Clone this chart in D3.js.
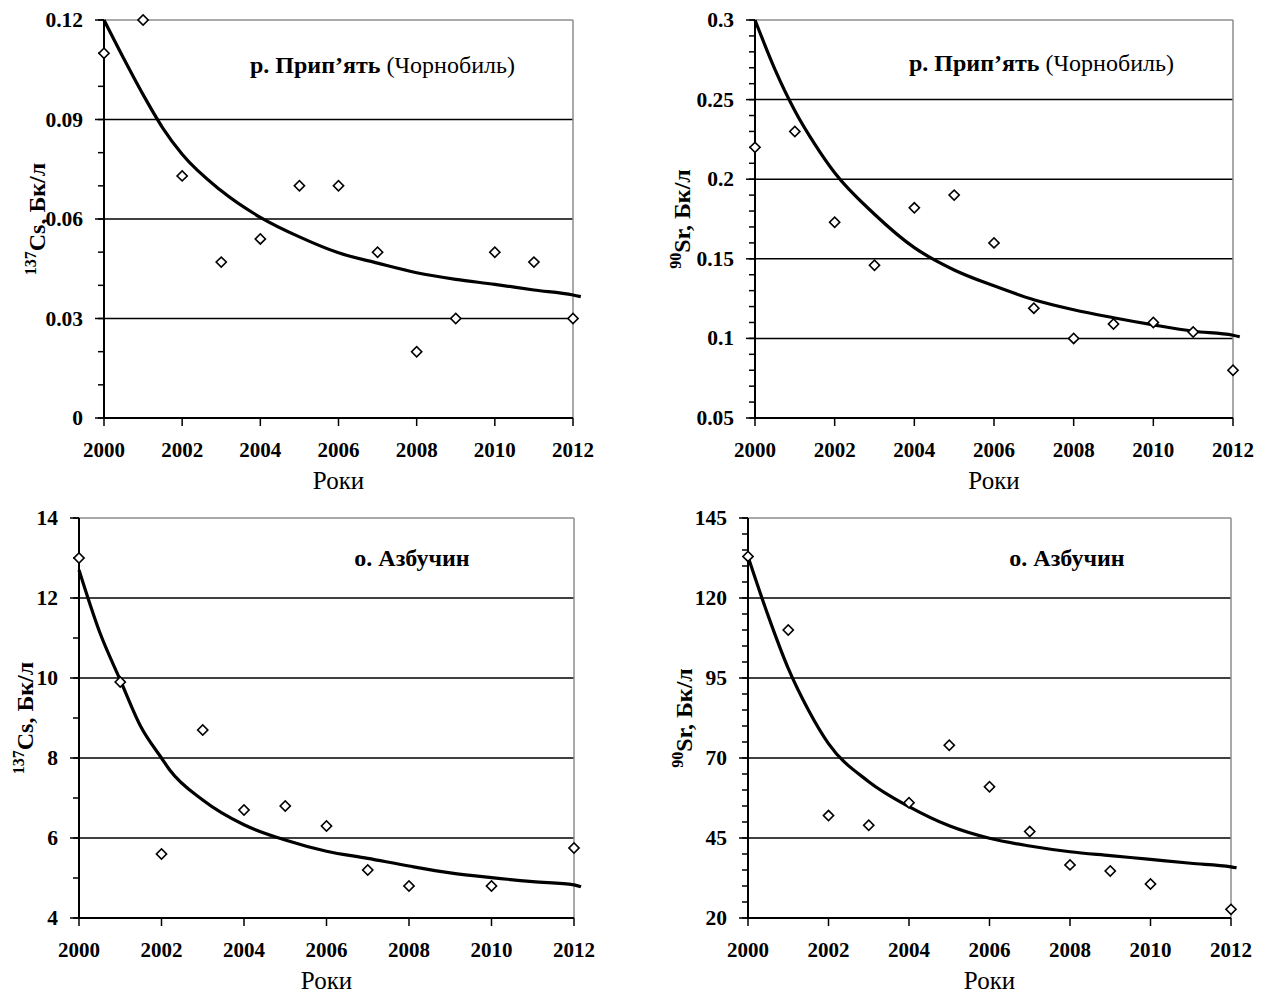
<!DOCTYPE html>
<html><head><meta charset="utf-8">
<script src="https://cdn.jsdelivr.net/npm/d3@7"></script>
<style>body{margin:0;background:#fff}</style>
</head><body><svg id="c" width="1265" height="997"></svg>
<script>
// ---- data ----
const years = [2000,2001,2002,2003,2004,2005,2006,2007,2008,2009,2010,2011,2012];
const csPripyat  = [0.11,0.12,0.073,0.047,0.054,0.07,0.07,0.05,0.02,0.03,0.05,0.047,0.03];
const srPripyat  = [0.22,0.23,0.173,0.146,0.182,0.19,0.16,0.119,0.1,0.109,0.11,0.104,0.08];
const csAzbuchyn = [13,9.9,5.6,8.7,6.7,6.8,6.3,5.2,4.8,null,4.8,null,5.75];
const srAzbuchyn = [133,110,52,49,56,74,61,47,36.6,34.7,30.6,null,22.7];

const trendX1 = [2000,2000.5,2001,2001.5,2002,2003,2004,2005,2006,2007,2008,2009,2010,2011,2012,2012.2];
const trendY1 = [0.12,0.1085,0.0975,0.0875,0.0795,0.0685,0.0605,0.0546,0.0498,0.0467,0.0438,0.0418,0.0403,0.0386,0.0371,0.0366];
const trendX2 = [2000,2000.5,2001,2001.5,2002,2003,2004,2005,2006,2007,2008,2009,2010,2011,2012,2012.17];
const trendY2 = [0.3,0.269,0.243,0.222,0.204,0.178,0.157,0.143,0.133,0.1243,0.118,0.113,0.1085,0.1045,0.102,0.101];
const trendX3 = [2000,2000.5,2001,2001.5,2002,2002.2,2003,2004,2005,2006,2007,2008,2009,2010,2011,2012,2012.17];
const trendY3 = [12.7,11.15,9.95,8.78,8.0,7.7,6.95,6.33,5.95,5.67,5.49,5.3,5.13,5.01,4.91,4.83,4.78];
const trendX4 = [2000,2000.5,2001,2001.5,2002,2003,2004,2005,2006,2007,2008,2009,2010,2011,2012,2012.14];
const trendY4 = [133,114.5,98,85,74.5,62.6,54.8,48.8,44.9,42.5,40.7,39.5,38.3,37.1,36.0,35.7];

const xTicks = [2000,2002,2004,2006,2008,2010,2012];
const yTicks1 = [0,0.03,0.06,0.09,0.12];
const yLabels1 = ["0","0.03","0.06","0.09","0.12"];
const yTicks2 = [0.05,0.1,0.15,0.2,0.25,0.3];
const yLabels2 = ["0.05","0.1","0.15","0.2","0.25","0.3"];
const yTicks3 = [4,6,8,10,12,14];
const yLabels3 = ["4","6","8","10","12","14"];
const yTicks4 = [20,45,70,95,120,145];
const yLabels4 = ["20","45","70","95","120","145"];

const xTitle = "Роки";
const unit = ", Бк/л";

const panels = [
  {box:{l:104,r:573,t:20,b:418}, vals:csPripyat, tx:trendX1, ty:trendY1, ticks:yTicks1, labels:yLabels1, minor:0.01,
   iso:"137", el:"Cs", titleX:45, note:[["р. Прип’ять",true],[" (Чорнобиль)",false]], noteX:250, noteY:73, anchor:"start"},
  {box:{l:755,r:1233,t:20,b:418}, vals:srPripyat, tx:trendX2, ty:trendY2, ticks:yTicks2, labels:yLabels2, minor:0.01,
   iso:"90", el:"Sr", titleX:690, note:[["р. Прип’ять",true],[" (Чорнобиль)",false]], noteX:909, noteY:71, anchor:"start"},
  {box:{l:79,r:574,t:518,b:918}, vals:csAzbuchyn, tx:trendX3, ty:trendY3, ticks:yTicks3, labels:yLabels3, minor:1,
   iso:"137", el:"Cs", titleX:33, note:[["о. Азбучин",true]], noteX:412, noteY:566, anchor:"middle"},
  {box:{l:748,r:1231,t:518,b:918}, vals:srAzbuchyn, tx:trendX4, ty:trendY4, ticks:yTicks4, labels:yLabels4, minor:5,
   iso:"90", el:"Sr", titleX:692, note:[["о. Азбучин",true]], noteX:1067, noteY:566, anchor:"middle"}
];

const svg = d3.select("#c");
const FONT = "'Liberation Serif','Times New Roman',serif";

panels.forEach(p => {
  const B = p.box;
  const x = d3.scaleLinear().domain([2000,2012]).range([B.l,B.r]);
  const y0 = p.ticks[0], y1 = p.ticks[p.ticks.length-1];
  const y = d3.scaleLinear().domain([y0,y1]).range([B.b,B.t]);
  const g = svg.append("g");

  // gridlines (inner)
  p.ticks.slice(1,-1).forEach(v => {
    g.append("line").attr("x1",B.l).attr("x2",B.r).attr("y1",y(v)).attr("y2",y(v))
      .attr("stroke","#000").attr("stroke-width",1.5);
  });
  // top and right border (gray)
  g.append("line").attr("x1",B.l).attr("x2",B.r).attr("y1",B.t).attr("y2",B.t).attr("stroke","#8c8c8c").attr("stroke-width",1.5);
  g.append("line").attr("x1",B.r).attr("x2",B.r).attr("y1",B.t).attr("y2",B.b).attr("stroke","#8c8c8c").attr("stroke-width",1.5);

  // minor y ticks
  const nMinor = Math.round((y1-y0)/p.minor);
  for (let i=0;i<=nMinor;i++){
    const v = y0 + i*p.minor;
    g.append("line").attr("x1",B.l-6).attr("x2",B.l).attr("y1",y(v)).attr("y2",y(v))
      .attr("stroke","#000").attr("stroke-width",1.5);
  }
  // major y ticks + labels
  p.ticks.forEach((v,i) => {
    g.append("line").attr("x1",B.l-9).attr("x2",B.l).attr("y1",y(v)).attr("y2",y(v))
      .attr("stroke","#000").attr("stroke-width",1.5);
    g.append("text").attr("x",B.l-21).attr("y",y(v)+7).attr("text-anchor","end")
      .attr("font-family",FONT).attr("font-weight","bold").attr("font-size",21.5).text(p.labels[i]);
  });
  // x ticks + labels
  xTicks.forEach(v => {
    g.append("line").attr("x1",x(v)).attr("x2",x(v)).attr("y1",B.b).attr("y2",B.b+8)
      .attr("stroke","#000").attr("stroke-width",1.5);
    g.append("text").attr("x",x(v)).attr("y",B.b+39).attr("text-anchor","middle")
      .attr("font-family",FONT).attr("font-weight","bold").attr("font-size",21).text(v);
  });
  // axis lines
  g.append("line").attr("x1",B.l).attr("x2",B.l).attr("y1",B.t).attr("y2",B.b).attr("stroke","#000").attr("stroke-width",2);
  g.append("line").attr("x1",B.l).attr("x2",B.r).attr("y1",B.b).attr("y2",B.b).attr("stroke","#000").attr("stroke-width",2);

  // x title
  g.append("text").attr("x",(B.l+B.r)/2).attr("y",B.b+71).attr("text-anchor","middle")
    .attr("font-family",FONT).attr("font-size",25).text(xTitle);

  // y title
  const yt = g.append("text").attr("transform",`translate(${p.titleX},${(B.t+B.b)/2}) rotate(-90)`)
    .attr("text-anchor","middle").attr("font-family",FONT).attr("font-weight","bold").attr("font-size",24);
  yt.append("tspan").attr("font-size",16).attr("dy",-9).text(p.iso);
  yt.append("tspan").attr("dy",9).text(p.el + unit);

  // note
  const nt = g.append("text").attr("x",p.noteX).attr("y",p.noteY).attr("text-anchor",p.anchor)
    .attr("font-family",FONT).attr("font-size",24);
  p.note.forEach(([s,b]) => nt.append("tspan").attr("font-weight",b?"bold":"normal").text(s));

  // trend line
  const td = p.tx.map((v,i)=>[v,p.ty[i]]);
  g.append("path").datum(td)
    .attr("d", d3.line().x(d=>x(d[0])).y(d=>y(d[1])).curve(d3.curveMonotoneX))
    .attr("fill","none").attr("stroke","#000").attr("stroke-width",3.2);

  // markers
  const pts = years.map((yr,i)=>[yr,p.vals[i]]).filter(d=>d[1]!=null);
  g.selectAll("path.m").data(pts).enter().append("path").attr("class","m")
    .attr("d", d3.symbol(d3.symbolSquare, 52)())
    .attr("transform", d=>`translate(${x(d[0])},${y(d[1])}) rotate(45)`)
    .attr("fill","#fff").attr("stroke","#000").attr("stroke-width",1.6);
});
</script></body></html>
